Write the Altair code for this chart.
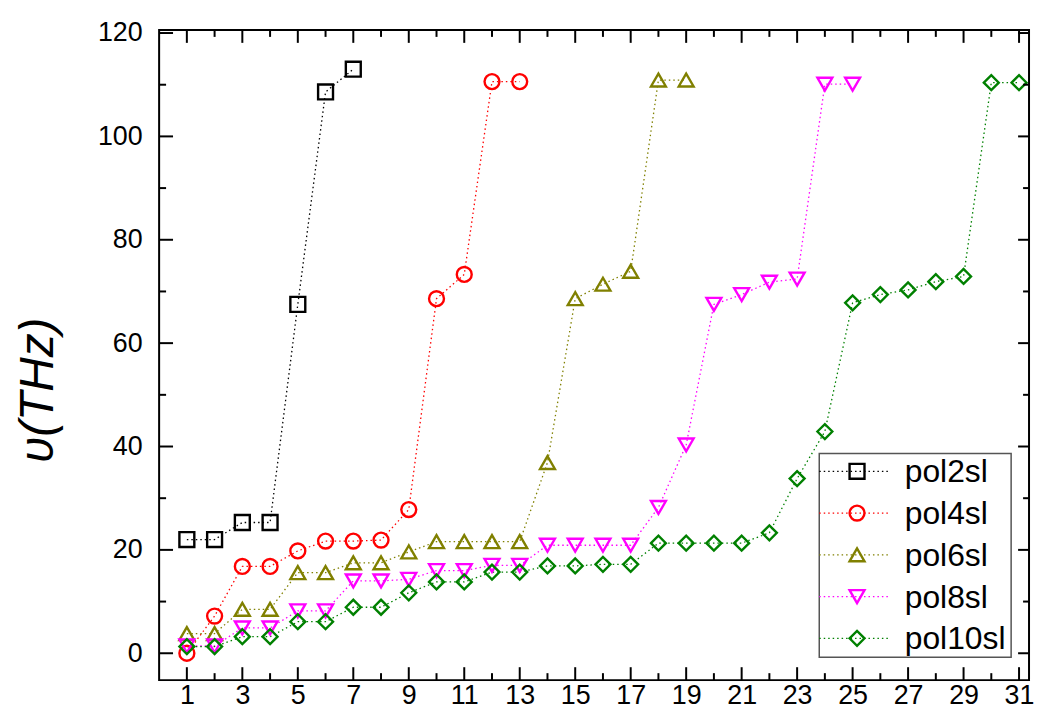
import altair as alt
import pandas as pd

series_names = ["pol2sl", "pol4sl", "pol6sl", "pol8sl", "pol10sl"]
colors = ["#000000", "#FF0000", "#808000", "#FF00FF", "#008000"]
shapes = ["square", "circle", "triangle-up", "triangle-down", "diamond"]

pol2sl = [22.0, 22.0, 25.3, 25.3, 67.5, 108.6, 113.0]
pol4sl = [0.0, 7.2, 16.8, 16.8, 19.8, 21.7, 21.7, 21.9, 27.8, 68.6, 73.3, 110.6, 110.6]
pol6sl = [3.8, 3.8, 8.5, 8.5, 15.6, 15.6, 17.5, 17.5, 19.6, 21.6, 21.6, 21.6, 21.6,
          36.9, 68.6, 71.4, 73.9, 110.9, 110.9]
pol8sl = [1.4, 1.4, 4.9, 4.9, 8.2, 8.2, 14.0, 14.0, 14.3, 16.0, 16.0, 17.0, 17.0,
          20.9, 20.9, 20.9, 20.9, 28.2, 40.3, 67.5, 69.4, 71.8, 72.4, 110.1, 110.1]
pol10sl = [1.3, 1.3, 3.2, 3.2, 6.1, 6.1, 8.9, 8.9, 11.7, 13.8, 13.8, 15.7, 15.7,
           16.9, 16.9, 17.2, 17.2, 21.3, 21.3, 21.3, 21.3, 23.3, 33.8, 42.9,
           67.8, 69.4, 70.3, 71.9, 72.9, 110.4, 110.4]

x_major = [1, 3, 5, 7, 9, 11, 13, 15, 17, 19, 21, 23, 25, 27, 29, 31]
x_minor = [2, 4, 6, 8, 10, 12, 14, 16, 18, 20, 22, 24, 26, 28, 30]
y_major = [0, 20, 40, 60, 80, 100, 120]
y_minor = [10, 30, 50, 70, 90, 110]

W, H = 875, 654
FONT = "Liberation Sans"

rows = []
for name, vals in zip(series_names, [pol2sl, pol4sl, pol6sl, pol8sl, pol10sl]):
    for i, v in enumerate(vals):
        rows.append({"series": name, "n": i + 1, "v": v})
df = pd.DataFrame(rows)

xscale = alt.Scale(domain=[0, 31.36], nice=False, zero=False)
yscale = alt.Scale(domain=[-5.2, 120.6], nice=False, zero=False)
cscale = alt.Scale(domain=series_names, range=colors)
sscale = alt.Scale(domain=series_names, range=shapes)

xaxis = alt.Axis(values=x_major, title=None, ticks=False, domain=False, grid=False,
                 labelFontSize=27, labelFont=FONT, labelColor="black", labelPadding=3,
                 labelFlush=False)
yaxis = alt.Axis(values=y_major, title="υ(THz)", ticks=False, domain=False, grid=False,
                 labelFontSize=27, labelFont=FONT, labelColor="black", labelPadding=17,
                 titleFontSize=48, titleFont=FONT, titleFontWeight="normal",
                 titleFontStyle="italic", titleColor="black", titleX=-121, titleY=362,
                 titleAlign="center", titleBaseline="middle", titleAngle=270)

lines = alt.Chart(df).mark_line(strokeDash=[1.5, 3], strokeWidth=1.3).encode(
    x=alt.X("n:Q", scale=xscale, axis=xaxis),
    y=alt.Y("v:Q", scale=yscale, axis=yaxis),
    color=alt.Color("series:N", scale=cscale, legend=None),
    detail="series:N",
    order="n:Q",
)
points = alt.Chart(df).mark_point(filled=False, strokeWidth=2.4, size=225, opacity=1).encode(
    x=alt.X("n:Q", scale=xscale, axis=xaxis),
    y=alt.Y("v:Q", scale=yscale, axis=yaxis),
    color=alt.Color("series:N", scale=cscale, legend=None),
    shape=alt.Shape("series:N", scale=sscale, legend=None),
)

dxM = pd.DataFrame({"t": x_major})
dxm = pd.DataFrame({"t": x_minor})
dyM = pd.DataFrame({"t": y_major})
dym = pd.DataFrame({"t": y_minor})

def xticks(d, y1, y2):
    return alt.Chart(d).mark_rule(color="black", strokeWidth=2).encode(
        x=alt.X("t:Q", scale=xscale, axis=xaxis), y=alt.value(y1), y2=alt.value(y2))

def yticks(d, x1, x2):
    return alt.Chart(d).mark_rule(color="black", strokeWidth=2).encode(
        y=alt.Y("t:Q", scale=yscale, axis=yaxis), x=alt.value(x1), x2=alt.value(x2))

frame = alt.Chart(pd.DataFrame({"a": [0]})).mark_rect(
    fill=None, stroke="black", strokeWidth=2).encode(
    x=alt.value(0), x2=alt.value(W), y=alt.value(0), y2=alt.value(H))

ticks = [
    xticks(dxM, H, H - 13), xticks(dxm, H, H - 7),
    xticks(dxM, 0, 13), xticks(dxm, 0, 7),
    yticks(dyM, 0, 14), yticks(dym, 0, 7),
    yticks(dyM, W, W - 11), yticks(dym, W, W - 6),
]

main = alt.layer(lines, points, *ticks)

leg_df = pd.DataFrame({"series": series_names})
lscale = alt.Scale(type="point", domain=series_names, range=[444, 612], padding=0)
box = alt.Chart(pd.DataFrame({"a": [0]})).mark_rect(
    fill="white", stroke="#555555", strokeWidth=1.5).encode(
    x=alt.value(664), x2=alt.value(857), y=alt.value(426), y2=alt.value(631))
leg_lines = alt.Chart(leg_df).mark_rule(strokeDash=[1.5, 3], strokeWidth=1.3).encode(
    x=alt.value(664), x2=alt.value(736),
    y=alt.Y("series:N", scale=lscale, axis=None),
    color=alt.Color("series:N", scale=cscale, legend=None),
)
leg_pts = alt.Chart(leg_df).mark_point(filled=False, strokeWidth=2.4, size=225, opacity=1).encode(
    x=alt.value(702),
    y=alt.Y("series:N", scale=lscale, axis=None),
    color=alt.Color("series:N", scale=cscale, legend=None),
    shape=alt.Shape("series:N", scale=sscale, legend=None),
)
leg_txt = alt.Chart(leg_df).mark_text(align="left", baseline="middle", fontSize=32,
                                      font=FONT, color="black", dy=1).encode(
    x=alt.value(750),
    y=alt.Y("series:N", scale=lscale, axis=None),
    text="series:N",
)
legend = alt.layer(box, leg_lines, leg_pts, leg_txt, frame)

chart = alt.layer(main, legend).resolve_scale(y="independent").properties(
    width=W, height=H,
    autosize=alt.AutoSizeParams(type="none"),
    padding={"left": 152, "top": 20, "right": 5, "bottom": 30},
).configure_view(stroke=None).configure(background="white")

chart.save("out.html", embed_options={"renderer": "svg", "actions": False})
